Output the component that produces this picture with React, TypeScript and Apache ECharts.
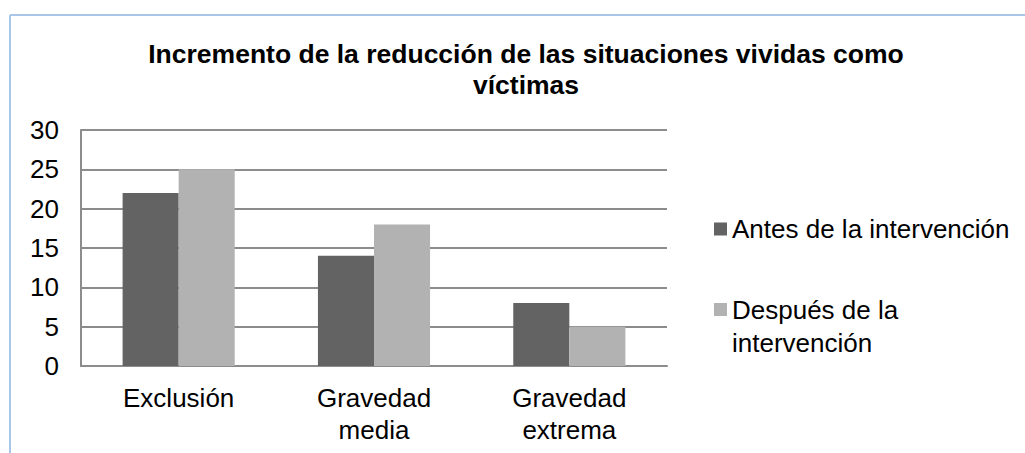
import React, { useEffect, useRef } from "react";
import * as echarts from "echarts";

const categories = ["Exclusión", "Gravedad\nmedia", "Gravedad\nextrema"];
const antes = [22, 14, 8];
const despues = [25, 18, 5];
const seriesNames = ["Antes de la intervención", "Después de la intervención"];
const titleText = "Incremento de la reducción de las situaciones vividas como\nvíctimas";

const FONT = "'Liberation Sans', Arial, sans-serif";

export default function App() {
  const ref = useRef<HTMLDivElement>(null);
  useEffect(() => {
    if (!ref.current) return;
    const chart = echarts.init(ref.current, undefined, { renderer: "svg" });
    chart.setOption({
      animation: false,
      backgroundColor: "#ffffff",
      textStyle: { fontFamily: FONT },
      graphic: [
        { type: "line", shape: { x1: 10, y1: 15, x2: 1025, y2: 15 }, style: { stroke: "#a9c5e8", lineWidth: 2 } },
        { type: "line", shape: { x1: 10, y1: 15, x2: 10, y2: 453 }, style: { stroke: "#a9c5e8", lineWidth: 2 } },
        {
          type: "text",
          x: 526,
          y: 38,
          style: {
            text: titleText,
            textAlign: "center",
            textVerticalAlign: "top",
            fontFamily: FONT,
            fontSize: 26.5,
            fontWeight: "bold",
            lineHeight: 31,
            fill: "#000",
          },
        },
      ],
      legend: [
        {
          data: [seriesNames[0]],
          left: 709,
          top: 209,
          itemWidth: 13,
          itemHeight: 13,
          icon: "rect",
          textStyle: { fontFamily: FONT, fontSize: 26, color: "#000", lineHeight: 30 },
        },
        {
          data: [seriesNames[1]],
          left: 709,
          top: 288,
          itemWidth: 13,
          itemHeight: 46,
          icon: "path://M0,0L13,0L13,13L0,13Z M0,46L0.01,46L0,46Z",
          formatter: (n: string) => n.replace("de la ", "de la\n"),
          textStyle: { fontFamily: FONT, fontSize: 26, color: "#000", lineHeight: 33 },
        },
      ],
      grid: { left: 81, right: 358, top: 130, bottom: 87, containLabel: false },
      xAxis: {
        type: "category",
        data: categories,
        axisLine: { show: true, lineStyle: { color: "#8c8c8c", width: 2 } },
        axisTick: { show: false },
        axisLabel: { fontFamily: FONT, fontSize: 26, color: "#000", lineHeight: 32, margin: 16, interval: 0 },
      },
      yAxis: {
        type: "value",
        min: 0,
        max: 30,
        interval: 5,
        axisLine: { show: true, lineStyle: { color: "#8c8c8c", width: 2 } },
        axisTick: { show: false },
        axisLabel: { fontFamily: FONT, fontSize: 26, color: "#000", margin: 22 },
        splitLine: { show: true, lineStyle: { color: "#8c8c8c", width: 2 } },
      },
      series: [
        {
          name: seriesNames[0],
          type: "bar",
          data: antes,
          barGap: "0%",
          barCategoryGap: "42.6%",
          itemStyle: { color: "#636363" },
        },
        {
          name: seriesNames[1],
          type: "bar",
          data: despues,
          barGap: "0%",
          barCategoryGap: "42.6%",
          itemStyle: { color: "#b2b2b2" },
        },
      ],
    });
    return () => chart.dispose();
  }, []);
  return (
    <div
      ref={ref}
      style={{ position: "fixed", left: 0, top: 0, width: 1025, height: 453 }}
    />
  );
}
